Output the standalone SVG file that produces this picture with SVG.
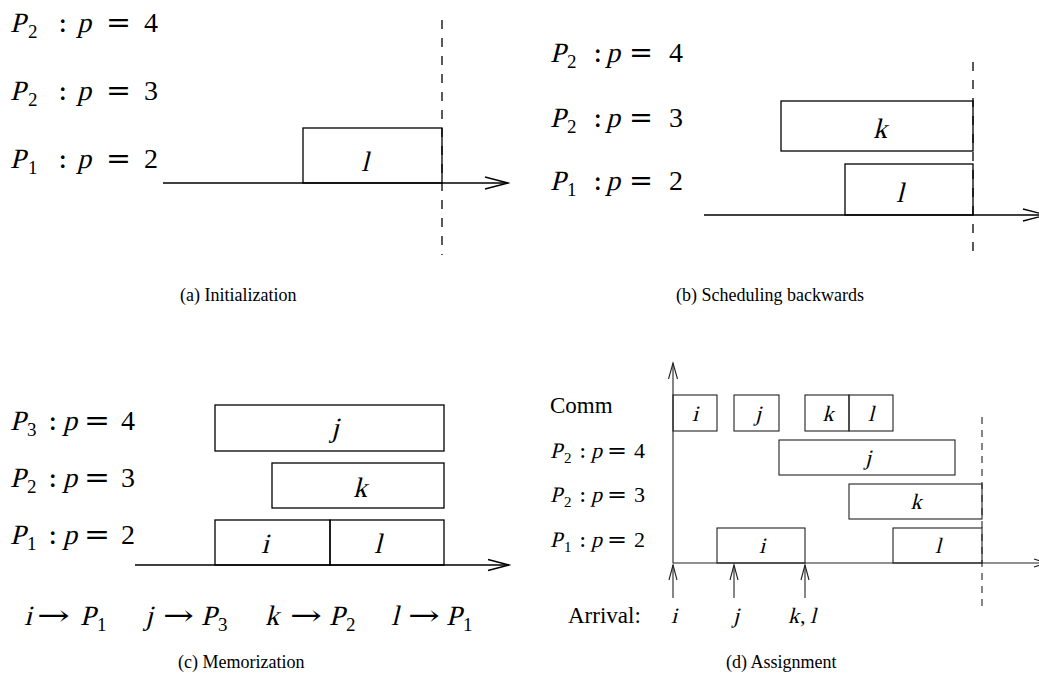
<svg xmlns="http://www.w3.org/2000/svg" width="1039" height="686" viewBox="0 0 1039 686">
<style>
text{font-family:"Liberation Serif","Times New Roman",serif;fill:#000}
.eq{font-family:"DejaVu Serif","Liberation Serif",serif}
.box{fill:none;stroke:#000;stroke-width:1.3}
.boxd{fill:none;stroke:#222;stroke-width:1.1}
.ax{fill:none;stroke:#000;stroke-width:1.3}
.axd{fill:none;stroke:#222;stroke-width:1.1}
.dash{stroke:#000;stroke-width:1.3;stroke-dasharray:9 9;fill:none}
.dashd{stroke:#222;stroke-width:1.1;stroke-dasharray:7 6;fill:none}
.cap{font-size:18px}
.mid{text-anchor:middle}
.L{font-size:28px}
.S{font-size:19px}
.Ld{font-size:22px}
.Sd{font-size:15px}
</style>

<!-- Panel (a) -->
<g id="panel-a">
  <g id="a-label-4" class="L">
    <text class="L" transform="translate(10,32) skewX(-14)">P</text><text class="S" x="28" y="38">2</text><text class="eq" x="58" y="32">:</text><text class="L" transform="translate(77,32) skewX(-14)">p</text><text class="eq" x="106" y="32" textLength="25" lengthAdjust="spacingAndGlyphs">=</text><text x="144" y="32">4</text>
  </g>
  <g id="a-label-3" class="L">
    <text class="L" transform="translate(10,100) skewX(-14)">P</text><text class="S" x="28" y="106">2</text><text class="eq" x="58" y="100">:</text><text class="L" transform="translate(77,100) skewX(-14)">p</text><text class="eq" x="106" y="100" textLength="25" lengthAdjust="spacingAndGlyphs">=</text><text x="144" y="100">3</text>
  </g>
  <g id="a-label-2" class="L">
    <text class="L" transform="translate(10,168) skewX(-14)">P</text><text class="S" x="28" y="174">1</text><text class="eq" x="58" y="168">:</text><text class="L" transform="translate(77,168) skewX(-14)">p</text><text class="eq" x="106" y="168" textLength="25" lengthAdjust="spacingAndGlyphs">=</text><text x="144" y="168">2</text>
  </g>
  <g id="a-task-l">
    <rect class="box" x="303" y="128" width="139" height="55"/>
    <text class="L mid" transform="translate(365,171) skewX(-14)">l</text>
  </g>
  <text class="cap" x="180" y="301">(a) Initialization</text>
</g>

<!-- Panel (b) -->
<g id="panel-b">
  <g id="b-label-4" class="L">
    <text class="L" transform="translate(550,62) skewX(-14)">P</text><text class="S" x="567" y="68">2</text><text class="eq" x="593" y="62">:</text><text class="L" transform="translate(606,62) skewX(-14)">p</text><text class="eq" x="629" y="62" textLength="24" lengthAdjust="spacingAndGlyphs">=</text><text x="669" y="62">4</text>
  </g>
  <g id="b-label-3" class="L">
    <text class="L" transform="translate(550,127) skewX(-14)">P</text><text class="S" x="567" y="133">2</text><text class="eq" x="593" y="127">:</text><text class="L" transform="translate(606,127) skewX(-14)">p</text><text class="eq" x="629" y="127" textLength="24" lengthAdjust="spacingAndGlyphs">=</text><text x="669" y="127">3</text>
  </g>
  <g id="b-label-2" class="L">
    <text class="L" transform="translate(550,190) skewX(-14)">P</text><text class="S" x="567" y="196">1</text><text class="eq" x="593" y="190">:</text><text class="L" transform="translate(606,190) skewX(-14)">p</text><text class="eq" x="629" y="190" textLength="24" lengthAdjust="spacingAndGlyphs">=</text><text x="669" y="190">2</text>
  </g>
  <g id="b-task-k">
    <rect class="box" x="781" y="101" width="192" height="50"/>
    <text class="L mid" transform="translate(880,138) skewX(-14)">k</text>
  </g>
  <g id="b-task-l">
    <rect class="box" x="845" y="164" width="128" height="51"/>
    <text class="L mid" transform="translate(900,202) skewX(-14)">l</text>
  </g>
  <text class="cap" x="676" y="301">(b) Scheduling backwards</text>
</g>

<!-- Panel (c) -->
<g id="panel-c">
  <g id="c-label-4" class="L">
    <text class="L" transform="translate(10,430) skewX(-14)">P</text><text class="S" x="27" y="436">3</text><text class="eq" x="48" y="430">:</text><text class="L" transform="translate(63,430) skewX(-14)">p</text><text class="eq" x="84" y="430" textLength="26" lengthAdjust="spacingAndGlyphs">=</text><text x="121" y="430">4</text>
  </g>
  <g id="c-label-3" class="L">
    <text class="L" transform="translate(10,487) skewX(-14)">P</text><text class="S" x="27" y="493">2</text><text class="eq" x="48" y="487">:</text><text class="L" transform="translate(63,487) skewX(-14)">p</text><text class="eq" x="84" y="487" textLength="26" lengthAdjust="spacingAndGlyphs">=</text><text x="121" y="487">3</text>
  </g>
  <g id="c-label-2" class="L">
    <text class="L" transform="translate(10,544) skewX(-14)">P</text><text class="S" x="27" y="550">1</text><text class="eq" x="48" y="544">:</text><text class="L" transform="translate(63,544) skewX(-14)">p</text><text class="eq" x="84" y="544" textLength="26" lengthAdjust="spacingAndGlyphs">=</text><text x="121" y="544">2</text>
  </g>
  <g id="c-task-j">
    <rect class="box" x="215" y="405" width="229" height="46"/>
    <text class="L mid" transform="translate(335,437) skewX(-14)">j</text>
  </g>
  <g id="c-task-k">
    <rect class="box" x="272" y="463" width="172" height="45"/>
    <text class="L mid" transform="translate(360,497) skewX(-14)">k</text>
  </g>
  <g id="c-task-i">
    <rect class="box" x="215" y="520" width="115" height="45"/>
    <text class="L mid" transform="translate(265,553) skewX(-14)">i</text>
  </g>
  <g id="c-task-l">
    <rect class="box" x="330" y="520" width="114" height="45"/>
    <text class="L mid" transform="translate(378,553) skewX(-14)">l</text>
  </g>
  <g id="c-mapping" class="L">
    <text class="L" transform="translate(24,625) skewX(-14)">i</text><text class="eq" x="37" y="625" textLength="33" lengthAdjust="spacingAndGlyphs">→</text><text class="L" transform="translate(80,625) skewX(-14)">P</text><text class="S" x="97" y="631">1</text>
    <text class="L" transform="translate(145,625) skewX(-14)">j</text><text class="eq" x="163" y="625" textLength="31" lengthAdjust="spacingAndGlyphs">→</text><text class="L" transform="translate(201,625) skewX(-14)">P</text><text class="S" x="218" y="631">3</text>
    <text class="L" transform="translate(265,625) skewX(-14)">k</text><text class="eq" x="290" y="625" textLength="32" lengthAdjust="spacingAndGlyphs">→</text><text class="L" transform="translate(329,625) skewX(-14)">P</text><text class="S" x="346" y="631">2</text>
    <text class="L" transform="translate(391,625) skewX(-14)">l</text><text class="eq" x="408" y="625" textLength="32" lengthAdjust="spacingAndGlyphs">→</text><text class="L" transform="translate(446,625) skewX(-14)">P</text><text class="S" x="463" y="631">1</text>
  </g>
  <text class="cap" x="178" y="668">(c) Memorization</text>
</g>

<!-- Panel (d) -->
<g id="panel-d">
  <text x="550" y="413" font-size="23">Comm</text>
  <g id="d-label-4" class="Ld">
    <text class="Ld" transform="translate(550,458) skewX(-14)">P</text><text class="Sd" x="564" y="463">2</text><text class="eq Ld" x="579" y="458">:</text><text class="Ld" transform="translate(591,458) skewX(-14)">p</text><text class="eq Ld" x="607" y="458" textLength="20" lengthAdjust="spacingAndGlyphs">=</text><text class="Ld" x="634" y="458">4</text>
  </g>
  <g id="d-label-3" class="Ld">
    <text class="Ld" transform="translate(550,502) skewX(-14)">P</text><text class="Sd" x="564" y="507">2</text><text class="eq Ld" x="579" y="502">:</text><text class="Ld" transform="translate(591,502) skewX(-14)">p</text><text class="eq Ld" x="607" y="502" textLength="20" lengthAdjust="spacingAndGlyphs">=</text><text class="Ld" x="634" y="502">3</text>
  </g>
  <g id="d-label-2" class="Ld">
    <text class="Ld" transform="translate(550,547) skewX(-14)">P</text><text class="Sd" x="564" y="552">1</text><text class="eq Ld" x="579" y="547">:</text><text class="Ld" transform="translate(591,547) skewX(-14)">p</text><text class="eq Ld" x="607" y="547" textLength="20" lengthAdjust="spacingAndGlyphs">=</text><text class="Ld" x="634" y="547">2</text>
  </g>
  <g id="d-arrivals">
    <text x="568" y="623" font-size="23">Arrival:</text>
    <text class="Ld mid" transform="translate(674,623) skewX(-14)">i</text>
    <text class="Ld mid" transform="translate(736,623) skewX(-14)">j</text>
    <text class="Ld" transform="translate(788,623) skewX(-14)">k</text><text class="Ld" x="800" y="623">,</text><text class="Ld" transform="translate(810,623) skewX(-14)">l</text>
  </g>
  <g id="d-comm-i"><rect class="boxd" x="673" y="395" width="44" height="36"/><text class="Ld mid" transform="translate(695,421) skewX(-14)">i</text></g>
  <g id="d-comm-j"><rect class="boxd" x="734" y="395" width="45" height="36"/><text class="Ld mid" transform="translate(758,421) skewX(-14)">j</text></g>
  <g id="d-comm-k"><rect class="boxd" x="805" y="395" width="44" height="36"/><text class="Ld mid" transform="translate(828,421) skewX(-14)">k</text></g>
  <g id="d-comm-l"><rect class="boxd" x="849" y="395" width="44" height="36"/><text class="Ld mid" transform="translate(871,421) skewX(-14)">l</text></g>
  <g id="d-task-j"><rect class="boxd" x="779" y="440" width="176" height="35"/><text class="Ld mid" transform="translate(868,465) skewX(-14)">j</text></g>
  <g id="d-task-k"><rect class="boxd" x="849" y="484" width="133" height="35"/><text class="Ld mid" transform="translate(916,509) skewX(-14)">k</text></g>
  <g id="d-task-i"><rect class="boxd" x="717" y="528" width="88" height="35"/><text class="Ld mid" transform="translate(762,553) skewX(-14)">i</text></g>
  <g id="d-task-l"><rect class="boxd" x="893" y="528" width="89" height="35"/><text class="Ld mid" transform="translate(938,553) skewX(-14)">l</text></g>
  <text class="cap" x="726" y="668">(d) Assignment</text>
</g>

<!-- Connectors: axes, deadlines, arrival arrows -->
<g id="connectors">
  <line class="ax" x1="163" y1="183" x2="508" y2="183"/>
  <polyline class="ax" points="485,177 508,183 485,189"/>
  <line class="dash" x1="442" y1="20" x2="442" y2="255"/>

  <line class="ax" x1="704" y1="215" x2="1046" y2="215"/>
  <polyline class="ax" points="1023,209 1046,215 1023,221"/>
  <line class="dash" x1="973" y1="62" x2="973" y2="253"/>

  <line class="ax" x1="135" y1="565" x2="509" y2="565"/>
  <polyline class="ax" points="488,559.5 509,565 488,570.5"/>

  <line class="axd" x1="673" y1="563" x2="673" y2="363"/>
  <polyline class="axd" points="668.5,379 673,363 677.5,379"/>
  <line class="axd" x1="673" y1="563" x2="1046" y2="563"/>
  <polyline class="axd" points="1034,559 1046,563 1034,567"/>
  <line class="dashd" x1="982" y1="417" x2="982" y2="608"/>
  <line class="axd" x1="673" y1="598" x2="673" y2="565"/>
  <polyline class="axd" points="669,580 673,565 677,580"/>
  <line class="axd" x1="734" y1="598" x2="734" y2="565"/>
  <polyline class="axd" points="730,580 734,565 738,580"/>
  <line class="axd" x1="805" y1="598" x2="805" y2="565"/>
  <polyline class="axd" points="801,580 805,565 809,580"/>
</g>
</svg>
